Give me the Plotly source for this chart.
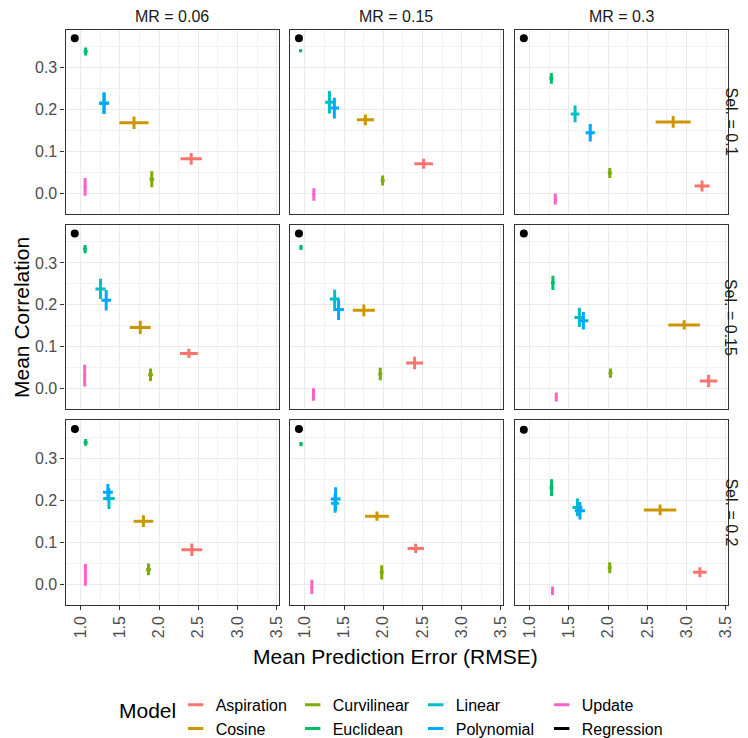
import plotly.graph_objects as go

# ---------------- data (panel order: Sel 0.1 [MR .06, .15, .3], Sel 0.15 [...], Sel 0.2 [...]) ----
mr_levels = ["0.06", "0.15", "0.3"]
sel_levels = ["0.1", "0.15", "0.2"]
models = ["Aspiration", "Cosine", "Curvilinear", "Euclidean", "Linear", "Polynomial", "Update", "Regression"]
colors = {"Aspiration": "#F8766D", "Cosine": "#CD9600", "Curvilinear": "#7CAE00", "Euclidean": "#00BE67",
          "Linear": "#00BFC4", "Polynomial": "#00A9FF", "Update": "#FF61CC", "Regression": "#000000"}

aspiration_x = [2.41, 2.515, 3.198, 2.38, 2.40, 3.282, 2.418, 2.414, 3.17]
aspiration_y = [0.082, 0.070, 0.017, 0.084, 0.061, 0.018, 0.082, 0.085, 0.028]
aspiration_xe = [0.137, 0.118, 0.097, 0.114, 0.108, 0.112, 0.133, 0.105, 0.087]
aspiration_ye = [0.014, 0.012, 0.013, 0.011, 0.015, 0.015, 0.015, 0.011, 0.012]

cosine_x = [1.68, 1.772, 2.83, 1.76, 1.752, 2.97, 1.80, 1.92, 2.663]
cosine_y = [0.168, 0.175, 0.170, 0.146, 0.187, 0.152, 0.150, 0.162, 0.177]
cosine_xe = [0.186, 0.108, 0.224, 0.133, 0.141, 0.203, 0.124, 0.152, 0.207]
cosine_ye = [0.015, 0.013, 0.014, 0.016, 0.014, 0.011, 0.014, 0.011, 0.013]

curvilinear_x = [1.907, 1.992, 2.021, 1.891, 1.962, 2.03, 1.865, 1.98, 2.02]
curvilinear_y = [0.033, 0.030, 0.048, 0.033, 0.035, 0.037, 0.035, 0.028, 0.039]
curvilinear_xe = [0.03, 0.025, 0.025, 0.03, 0.025, 0.025, 0.03, 0.025, 0.025]
curvilinear_ye = [0.019, 0.012, 0.012, 0.015, 0.015, 0.011, 0.014, 0.017, 0.013]

euclidean_x = [1.063, 0.946, 1.275, 1.056, 0.95, 1.295, 1.063, 0.95, 1.278]
euclidean_y = [0.338, 0.340, 0.274, 0.333, 0.337, 0.2525, 0.338, 0.334, 0.230]
euclidean_xe = [0.025, 0.015, 0.025, 0.025, 0.015, 0.025, 0.025, 0.015, 0.025]
euclidean_ye = [0.0097, 0.003, 0.013, 0.0097, 0.006, 0.017, 0.008, 0.005, 0.020]

linear_x = [1.295, 1.313, 1.578, 1.253, 1.38, 1.633, 1.36, 1.385, 1.608]
linear_y = [0.214, 0.217, 0.189, 0.238, 0.214, 0.170, 0.204, 0.193, 0.183]
linear_xe = [0.06, 0.055, 0.055, 0.065, 0.063, 0.063, 0.074, 0.051, 0.063]
linear_ye = [0.025, 0.027, 0.020, 0.024, 0.022, 0.023, 0.0246, 0.023, 0.021]

polynomial_x = [1.30, 1.376, 1.772, 1.325, 1.43, 1.684, 1.347, 1.392, 1.64]
polynomial_y = [0.215, 0.203, 0.144, 0.211, 0.189, 0.162, 0.219, 0.203, 0.175]
polynomial_xe = [0.063, 0.059, 0.059, 0.061, 0.068, 0.063, 0.063, 0.063, 0.065]
polynomial_ye = [0.026, 0.025, 0.021, 0.0246, 0.025, 0.021, 0.020, 0.028, 0.021]

update_x = [1.056, 1.114, 1.325, 1.051, 1.11, 1.338, 1.06, 1.089, 1.291]
update_y = [0.015, -0.003, -0.014, 0.031, -0.014, -0.020, 0.022, -0.007, -0.016]
update_xe = [0.015, 0.015, 0.015, 0.015, 0.015, 0.015, 0.015, 0.015, 0.015]
update_ye = [0.021, 0.015, 0.013, 0.026, 0.015, 0.011, 0.026, 0.017, 0.010]

regression_x = [0.924, 0.924, 0.924, 0.924, 0.924, 0.924, 0.926, 0.924, 0.924]
regression_y = [0.370, 0.370, 0.370, 0.370, 0.370, 0.370, 0.370, 0.370, 0.368]

x_ticks = [1.0, 1.5, 2.0, 2.5, 3.0, 3.5]
y_ticks = [0.0, 0.1, 0.2, 0.3]

series = {
    "Aspiration": (aspiration_x, aspiration_y, aspiration_xe, aspiration_ye),
    "Cosine": (cosine_x, cosine_y, cosine_xe, cosine_ye),
    "Curvilinear": (curvilinear_x, curvilinear_y, curvilinear_xe, curvilinear_ye),
    "Euclidean": (euclidean_x, euclidean_y, euclidean_xe, euclidean_ye),
    "Linear": (linear_x, linear_y, linear_xe, linear_ye),
    "Polynomial": (polynomial_x, polynomial_y, polynomial_xe, polynomial_ye),
    "Update": (update_x, update_y, update_xe, update_ye),
}

# ---------------- layout geometry ----------------
W, H = 748, 738
col_px = [(58, 273), (284, 499), (510.7, 725.7)]
row_px = [(22, 210), (221.5, 409.5), (421, 609)]
XR = [0.8063, 3.528]
YR = [-0.0491, 0.3905]
font_family = "Liberation Sans, Arial, sans-serif"

fig = go.Figure()

for k in range(9):
    r, c = divmod(k, 3)
    sfx = "" if k == 0 else str(k + 1)
    xa, ya = "x" + sfx, "y" + sfx
    for m in models[:-1]:
        xs, ys, xes, yes = series[m]
        fig.add_trace(go.Scatter(
            x=[xs[k]], y=[ys[k]], xaxis=xa, yaxis=ya, mode="markers",
            marker=dict(size=3, color=colors[m]),
            error_x=dict(type="data", array=[xes[k]], symmetric=True, thickness=3, width=0, color=colors[m]),
            error_y=dict(type="data", array=[yes[k]], symmetric=True, thickness=3, width=0, color=colors[m]),
            showlegend=False, hoverinfo="skip"))
    fig.add_trace(go.Scatter(
        x=[regression_x[k]], y=[regression_y[k]], xaxis=xa, yaxis=ya, mode="markers",
        marker=dict(size=8, color="black"), showlegend=False, hoverinfo="skip"))

    x0, x1 = col_px[c]
    t, b = row_px[r]
    common = dict(showgrid=True, gridcolor="#EBEBEB", gridwidth=1.1, zeroline=False,
                  showline=True, mirror=True, linecolor="#333333", linewidth=1.2,
                  tickfont=dict(size=16, color="#4D4D4D", family=font_family),
                  ticklen=4, tickcolor="#333333", tickwidth=1.1)
    fig.layout["xaxis" + sfx] = dict(
        common, domain=[x0 / W, x1 / W], range=XR, anchor=ya,
        tickvals=x_ticks, ticktext=[f"{v:.1f}" for v in x_ticks],
        minor=dict(dtick=0.25, tick0=0.75, showgrid=True, gridcolor="#F2F2F2", gridwidth=0.8),
        ticks="outside" if r == 2 else "", showticklabels=(r == 2), tickangle=-90)
    fig.layout["yaxis" + sfx] = dict(
        common, domain=[1 - b / H, 1 - t / H], range=YR, anchor=xa,
        tickvals=y_ticks, ticktext=[f"{v:.1f}" for v in y_ticks],
        minor=dict(dtick=0.05, tick0=-0.05, showgrid=True, gridcolor="#F2F2F2", gridwidth=0.8),
        ticks="outside" if c == 0 else "", showticklabels=(c == 0))

# ---------------- legend (4 columns of 2) ----------------
legend_cols = [["Aspiration", "Cosine"], ["Curvilinear", "Euclidean"], ["Linear", "Polynomial"], ["Update", "Regression"]]
legend_key_px = [189, 307, 431, 558]
for i, names in enumerate(legend_cols):
    lname = "legend" if i == 0 else f"legend{i + 1}"
    for nm in names:
        fig.add_trace(go.Scatter(
            x=[None], y=[None], mode="markers", name=nm, legend=lname,
            marker=dict(symbol="line-ew", size=11, color=colors[nm],
                        line=dict(color=colors[nm], width=3)),
            showlegend=True))
    fig.layout[lname] = dict(
        x=(legend_key_px[i] - 20) / W, xanchor="left", y=1 - 694 / H, yanchor="top",
        orientation="v", bgcolor="rgba(0,0,0,0)", borderwidth=0,
        font=dict(size=16, color="#000000", family=font_family), tracegroupgap=0)


def label(text, xpx, ypx, size, angle=0, color="#1A1A1A"):
    return dict(text=text, x=xpx / W, y=1 - ypx / H, xref="paper", yref="paper",
                xanchor="center", yanchor="middle", showarrow=False, textangle=angle,
                font=dict(size=size, color=color, family=font_family))


ann = []
for c, mr in enumerate(mr_levels):
    ann.append(label(f"MR = {mr}", (col_px[c][0] + col_px[c][1]) / 2, 9, 16))
for r, sl in enumerate(sel_levels):
    ann.append(label(f"Sel. = {sl}", 729, (row_px[r][0] + row_px[r][1]) / 2, 16, angle=90))
ann.append(label("Mean Correlation", 13, 315.5, 21, angle=-90, color="#000000"))
ann.append(label("Mean Prediction Error (RMSE)", 391, 662, 21, color="#000000"))
ann.append(label("Model", 141, 717, 21, color="#000000"))

fig.update_layout(width=W, height=H, margin=dict(l=0, r=0, t=0, b=0),
                  paper_bgcolor="white", plot_bgcolor="white", annotations=ann,
                  font=dict(family=font_family))

fig.write_html("out.html")
